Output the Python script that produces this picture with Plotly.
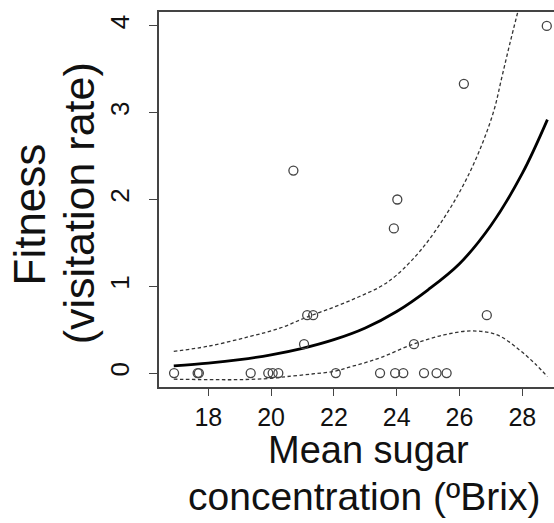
import plotly.graph_objects as go

# observed points
pt_x = [16.91, 17.66, 17.70, 19.35, 19.91, 20.05, 20.23, 22.06, 23.47, 23.95, 24.21,
        24.87, 25.27, 25.59, 21.05, 21.15, 21.34, 23.91, 24.02, 24.55, 26.87, 20.71,
        26.14, 28.78]
pt_y = [0, 0, 0, 0, 0, 0, 0, 0, 0, 0, 0,
        0, 0, 0, 0.333, 0.667, 0.667, 1.667, 2.0, 0.333, 0.667, 2.333,
        3.333, 4.0]

# fitted curve
fit_x = [16.9, 18, 19, 20, 21, 22, 23, 24, 25, 26, 27, 28, 28.8]
fit_y = [0.084, 0.115, 0.155, 0.21, 0.285, 0.385, 0.52, 0.71, 0.96, 1.26, 1.70, 2.30, 2.92]

# upper confidence band
up_x = [16.9, 18, 19.3, 20.3, 21.1, 22, 22.8, 23.5, 24, 24.8, 25.6, 26.2, 26.7, 27.1, 27.35, 27.6, 27.87]
up_y = [0.25, 0.31, 0.42, 0.52, 0.64, 0.76, 0.88, 1.0, 1.13, 1.43, 1.84, 2.22, 2.62, 3.03, 3.41, 3.79, 4.18]

# lower confidence band
lo_x = [16.9, 18, 19, 20, 20.5, 21.3, 22, 22.5, 23, 23.5, 24.5, 25.5, 26.4, 27.2, 27.9, 28.4, 28.8]
lo_y = [-0.07, -0.075, -0.075, -0.06, -0.04, -0.01, 0.02, 0.07, 0.12, 0.18, 0.33, 0.44, 0.486, 0.44, 0.27, 0.11, -0.04]

x_ticks = [18, 20, 22, 24, 26, 28]
y_ticks = [0, 1, 2, 3, 4]

FONT = "Liberation Sans, Arial, sans-serif"

fig = go.Figure()
fig.add_trace(go.Scatter(x=up_x, y=up_y, mode="lines", line=dict(color="#333", width=1.3, dash="3.5px,2.5px", shape="spline"), hoverinfo="skip"))
fig.add_trace(go.Scatter(x=lo_x, y=lo_y, mode="lines", line=dict(color="#333", width=1.3, dash="3.5px,2.5px", shape="spline"), hoverinfo="skip"))
fig.add_trace(go.Scatter(x=fit_x, y=fit_y, mode="lines", line=dict(color="#000", width=2.8, shape="spline")))
fig.add_trace(go.Scatter(x=pt_x, y=pt_y, mode="markers",
                         marker=dict(symbol="circle-open", size=9, color="#444", line=dict(width=1.3, color="#444"))))

fig.update_layout(
    width=554, height=523,
    margin=dict(l=159, r=0, t=12, b=136),
    paper_bgcolor="white", plot_bgcolor="white",
    showlegend=False,
    font=dict(family=FONT, color="#111"),
    xaxis=dict(range=[16.43, 29.01], tickvals=x_ticks, ticktext=[str(v) for v in x_ticks],
               showline=True, mirror=True, linecolor="#444", linewidth=1.5,
               ticks="outside", ticklen=7, tickwidth=1.2, tickcolor="#444",
               showgrid=False, zeroline=False, tickfont=dict(size=25, family=FONT, color="#111")),
    yaxis=dict(range=[-0.16, 4.16], tickvals=y_ticks, ticktext=[str(v) for v in y_ticks],
               showline=True, mirror=False, linecolor="#444", linewidth=1.5,
               ticks="outside", ticklen=8, tickwidth=1.2, tickcolor="#444", tickangle=-90,
               ticklabelstandoff=10,
               showgrid=False, zeroline=False, tickfont=dict(size=26, family=FONT, color="#111")),
    annotations=[
        dict(text="Mean sugar", xref="paper", yref="paper", x=0.53, y=0, xanchor="center", yanchor="top",
             yshift=-41, borderpad=0, showarrow=False, font=dict(size=38, family=FONT, color="#111")),
        dict(text="concentration (ºBrix)", xref="paper", yref="paper", x=0.52, y=0, xanchor="center", yanchor="top",
             yshift=-87, borderpad=0, showarrow=False, font=dict(size=39, family=FONT, color="#111")),
        dict(text="Fitness", xref="paper", yref="paper", x=0, y=0.46, xanchor="center", yanchor="middle",
             xshift=-130, textangle=-90, showarrow=False, font=dict(size=44, family=FONT, color="#111")),
        dict(text="(visitation rate)", xref="paper", yref="paper", x=0, y=0.49, xanchor="center", yanchor="middle",
             xshift=-80, textangle=-90, showarrow=False, font=dict(size=43, family=FONT, color="#111")),
    ],
)

fig.write_html("out.html", config={"displayModeBar": False},
               post_script="document.body.style.margin='0';")
